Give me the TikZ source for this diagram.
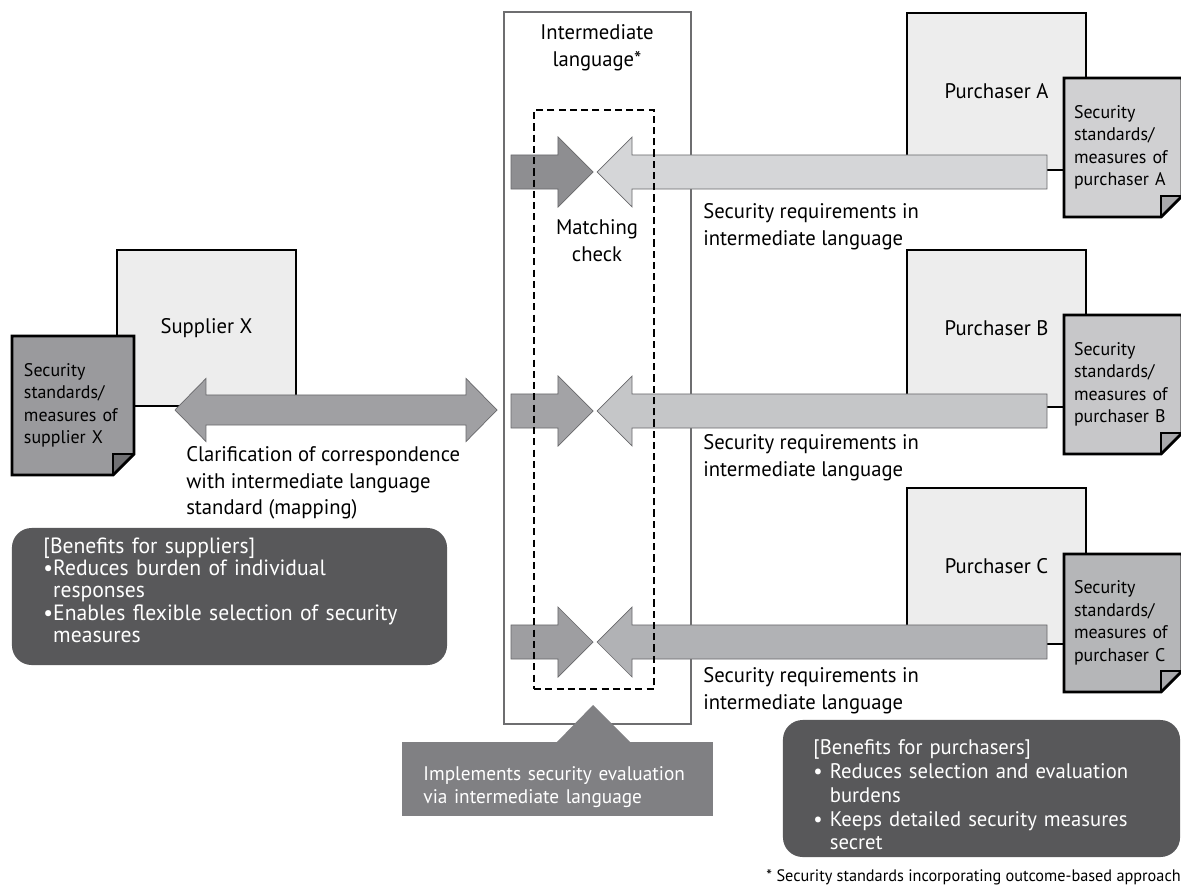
\documentclass[tikz,border=0pt]{standalone}
\usepackage{fontspec}
\setmainfont{PT Sans}[FakeStretch=0.98]
\usepackage{tikz}
\usetikzlibrary{calc, fit, positioning}

\definecolor{partyfill}{HTML}{EDEDED}
\definecolor{interedge}{HTML}{6E6E70}
\definecolor{arrowedge}{HTML}{68686B}
\definecolor{docXfill}{HTML}{9A9A9D}
\definecolor{docAfill}{HTML}{D0D0D2}
\definecolor{docBfill}{HTML}{C7C7C9}
\definecolor{docCfill}{HTML}{B5B6B8}
\definecolor{foldX}{HTML}{707073}
\definecolor{foldP}{HTML}{A9A9AC}
\definecolor{inAfill}{HTML}{8E8E91}
\definecolor{inBfill}{HTML}{A3A3A6}
\definecolor{inCfill}{HTML}{9E9EA1}
\definecolor{reqAfill}{HTML}{D5D6D8}
\definecolor{reqBfill}{HTML}{C5C6C8}
\definecolor{reqCfill}{HTML}{B1B2B5}
\definecolor{mapfill}{HTML}{A0A0A3}
\definecolor{perkgray}{HTML}{58585A}
\definecolor{notegray}{HTML}{808083}

% block arrow from #1 to the tip #2
\newcommand{\fatarrow}[3]{%
  \filldraw[fat, fill=#3] let \p1=(#1), \p2=(#2), \n1={sign(\x2-\x1)*24.9pt} in
    (\x1,{\y1+12.1pt}) -- ({\x2-(\n1)},{\y1+12.1pt}) -- ({\x2-(\n1)},{\y1+24.9pt}) -- (\p2)
    -- ({\x2-(\n1)},{\y1-24.9pt}) -- ({\x2-(\n1)},{\y1-12.1pt}) -- (\x1,{\y1-12.1pt}) -- cycle;}

% dog-ear corner of a sheet node
\newcommand{\docsheet}[2]{%
  \fill[white] ($(#1.south east)+(0,-21)$) -- ($(#1.south east)+(1,1)$) -- ($(#1.south east)+(-21,0)$) -- cycle;
  \filldraw[draw=black, line width=1pt, fill=#2] ($(#1.south east)+(-21,0)$) -- ($(#1.south east)+(-21,-21)$) -- ($(#1.south east)+(0,-21)$);
  \draw[sheetline] (#1.north west) -- (#1.north east) -- ($(#1.south east)+(0,-21)$)
    -- ($(#1.south east)+(-21,0)$) -- (#1.south west) -- cycle;}

\begin{document}
\begin{tikzpicture}[x=0.025cm, y=-0.025cm, font=\fontsize{15}{19}\selectfont,
        party/.style={draw=black, line width=1.5pt, fill=partyfill, inner sep=0pt, outer sep=0pt,
          minimum width=4.475cm, minimum height=3.9cm},
        sheet/.style={inner sep=0pt, outer sep=0pt, minimum height=3.475cm, text width=2.45cm,
          align=left, font=\fontsize{13}{16}\selectfont},
        sheetline/.style={draw=black, line width=2pt, line join=miter},
        fat/.style={draw=arrowedge, line width=0.5pt, line join=miter},
        tag/.style={anchor=west, align=left, inner sep=0pt},
        perk/.style={fill=perkgray, rounded corners=14pt, text=white, inner sep=0pt, outer sep=0pt,
          minimum height=3.425cm, align=left}]

  \useasboundingbox (0,0) rectangle (1181,893);

  \node[draw=interedge, line width=1.9pt, inner sep=0pt, fit={(504,12) (691,724)}] (inter) {};
  \node[align=center] (inter-title) at (597,48) {Intermediate\\language*};

  \node[party] (supX) at (206.5,328) {Supplier X};
  \node[party, minimum height=3.925cm] (purA) at (996.5,91.5) {Purchaser A};
  \node[party, minimum height=3.925cm] (purB) at (996.5,328.5) {Purchaser B};
  \node[party] (purC) at (996.5,566) {Purchaser C};

  \node[sheet, fill=docXfill, minimum width=3.05cm] (docX) at (73,405.5) {Security\\standards/\\measures of\\supplier X};
  \docsheet{docX}{foldX}
  \node[sheet, fill=docAfill, minimum width=2.95cm] (docA) at (1123,147.5) {Security\\standards/\\measures of\\purchaser A};
  \docsheet{docA}{foldP}
  \node[sheet, fill=docBfill, minimum width=2.95cm] (docB) at (1123,384.5) {Security\\standards/\\measures of\\purchaser B};
  \docsheet{docB}{foldP}
  \node[sheet, fill=docCfill, minimum width=2.95cm, minimum height=3.45cm] (docC) at (1123,623) {Security\\standards/\\measures of\\purchaser C};
  \docsheet{docC}{foldP}

  \coordinate (inA) at (511,172);  \coordinate (inA-tip) at (593,172);
  \coordinate (inB) at (511,411);  \coordinate (inB-tip) at (593,411);
  \coordinate (inC) at (511,642);  \coordinate (inC-tip) at (593,642);
  \coordinate (reqA) at (1047,172); \coordinate (reqA-tip) at (597,172);
  \coordinate (reqB) at (1047,411); \coordinate (reqB-tip) at (597,411);
  \coordinate (reqC) at (1047,642); \coordinate (reqC-tip) at (597,642);
  \coordinate (mapL) at (175,410);  \coordinate (mapR) at (497,410);

  \fatarrow{inA}{inA-tip}{inAfill}
  \fatarrow{reqA}{reqA-tip}{reqAfill}
  \fatarrow{inB}{inB-tip}{inBfill}
  \fatarrow{reqB}{reqB-tip}{reqBfill}
  \fatarrow{inC}{inC-tip}{inCfill}
  \fatarrow{reqC}{reqC-tip}{reqCfill}

  \filldraw[fat, fill=mapfill] let \p1=(mapL), \p2=(mapR) in
    (\p1) -- ({\x1+22pt},{\y1+22.4pt}) -- ({\x1+22pt},{\y1+10.7pt}) -- ({\x2-22pt},{\y1+10.7pt})
    -- ({\x2-22pt},{\y1+22.4pt}) -- (\p2) -- ({\x2-22pt},{\y1-22.4pt}) -- ({\x2-22pt},{\y1-10.7pt})
    -- ({\x1+22pt},{\y1-10.7pt}) -- ({\x1+22pt},{\y1-22.4pt}) -- cycle;

  \node[draw=black, line width=1.7pt, dash pattern=on 5pt off 3pt, inner sep=0pt,
        fit={(534,110) (654,689)}] (match) {};
  \node[align=center] (match-title) at (597,241) {Matching\\check};

  \node[tag] (req-a) at (703,227) {Security requirements in\\intermediate language};
  \node[tag] (req-b) at (703,458) {Security requirements in\\intermediate language};
  \node[tag] (req-c) at (703,691) {Security requirements in\\intermediate language};
  \node[tag] (mapping) at (186,483) {Clarification of correspondence\\with intermediate language\\standard (mapping)};

  \node[perk, minimum width=10.875cm, text width=9.3cm, font=\fontsize{15.7}{15.8}\selectfont]
    (perk-sup) at (229.5,596.5) {[Benefits for suppliers]\\
    \textbullet Reduces burden of individual\\\phantom{\textbullet}responses\\
    \textbullet Enables flexible selection of security\\\phantom{\textbullet}measures\par\vspace*{9pt}};
  \node[perk, minimum width=9.925cm, text width=8.4cm, font=\fontsize{15}{16.9}\selectfont]
    (perk-pur) at (981.5,788.5) {\rule{0pt}{20pt}[Benefits for purchasers]\\
    \textbullet\ Reduces selection and evaluation\\\phantom{\textbullet\ }burdens\\
    \textbullet\ Keeps detailed security measures\\\phantom{\textbullet\ }secret};

  \coordinate (evalptr) at (593,705);
  \node[fill=notegray, text=white, inner sep=0pt, outer sep=0pt, minimum width=7.775cm, minimum height=1.85cm,
        text width=6.7cm, align=left, font=\fontsize{14}{17}\selectfont] (evalnote) at (557.5,779)
    {\rule{0pt}{21.5pt}Implements security evaluation\\via intermediate language};
  \fill[notegray] (evalptr) -- ($(evalptr |- evalnote.north)+(38,1)$) -- ($(evalptr |- evalnote.north)+(-37,1)$) -- cycle;

  \node[anchor=east, inner sep=0pt, font=\fontsize{11.8}{14}\selectfont] (footnote) at (1181,877)
    {* Security standards incorporating outcome-based approach};
\end{tikzpicture}
\end{document}
